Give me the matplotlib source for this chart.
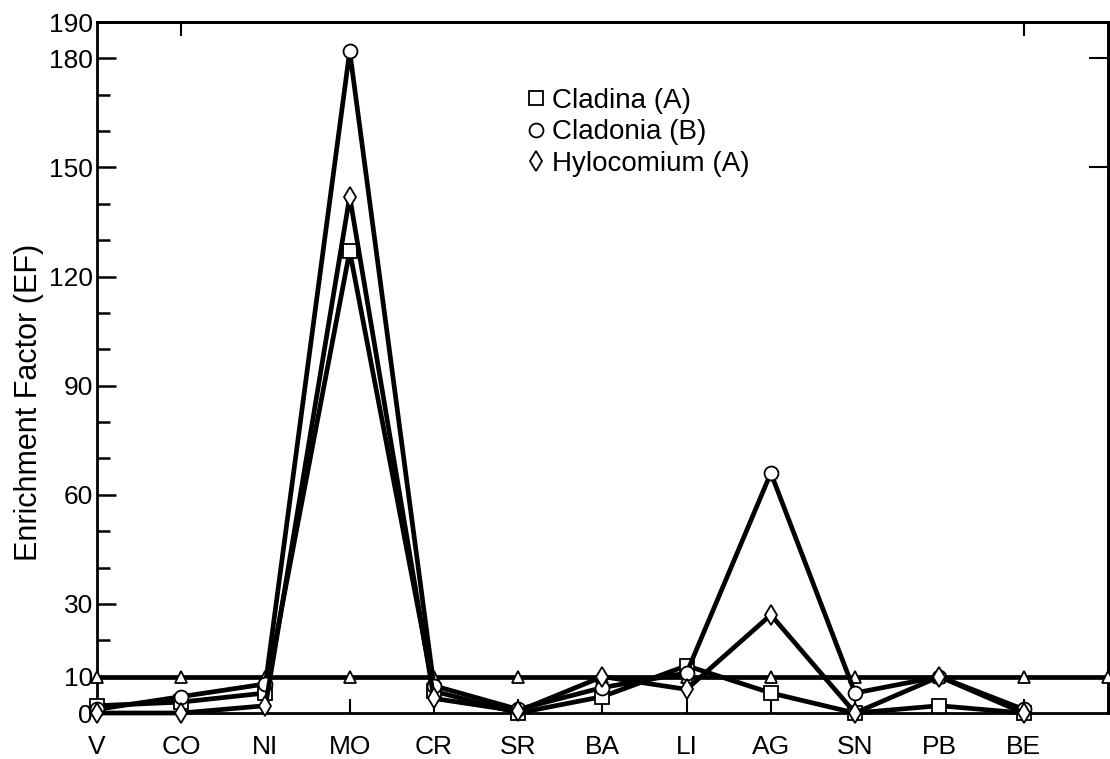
import matplotlib
matplotlib.use("Agg")
import matplotlib.pyplot as plt
from matplotlib.lines import Line2D
from matplotlib.ticker import FixedLocator

elements = ["V", "CO", "NI", "MO", "CR", "SR", "BA", "LI", "AG", "SN", "PB", "BE"]
cladina = [2, 3, 5.5, 127, 6, 0, 4.5, 13, 5.5, 0, 2, 0]
cladonia = [1, 4.5, 8, 182, 7.5, 1, 7, 11, 66, 5.5, 10, 1]
hylocomium = [0, 0, 2, 142, 4, 0.5, 10, 6.5, 27, 0, 10, 0]
reference_level = [10] * 13

yticks_major = [0, 10, 30, 60, 90, 120, 150, 180, 190]
yticks_minor = [20, 40, 50, 70, 80, 100, 110, 130, 140, 160, 170]

plt.rcParams['font.family'] = ['Liberation Sans', 'DejaVu Sans']

fig = plt.figure(figsize=(11.1, 7.59), dpi=100)
ax = fig.add_axes([0.0874, 0.0606, 0.9106, 0.9104])

x = list(range(len(elements)))
xr = list(range(len(reference_level)))

lw = 3.4
ms = 10
ax.plot(xr, reference_level, color='black', lw=lw, marker='^', ms=9,
        mfc='white', mec='black', mew=1.3, zorder=3, clip_on=False)
ax.plot(x, cladina, color='black', lw=lw, marker='s', ms=ms,
        mfc='white', mec='black', mew=1.3, zorder=4, clip_on=False)
ax.plot(x, cladonia, color='black', lw=lw, marker='o', ms=ms,
        mfc='white', mec='black', mew=1.3, zorder=4, clip_on=False)
ax.plot(x, hylocomium, color='black', lw=lw, marker='d', ms=ms,
        mfc='white', mec='black', mew=1.3, zorder=4, clip_on=False)

ax.set_xlim(0, 12)
ax.set_ylim(0, 190)

ax.set_xticks(x)
ax.set_xticklabels(elements, fontsize=19)
ax.set_yticks(yticks_major)
ax.set_yticklabels([str(v) for v in yticks_major], fontsize=19)
ax.yaxis.set_minor_locator(FixedLocator(yticks_minor))

ax.tick_params(axis='x', direction='in', length=10, width=1.5, pad=16)
ax.tick_params(axis='y', which='major', direction='in', length=14, width=1.8, pad=3)
ax.tick_params(axis='y', which='minor', direction='in', length=9, width=1.8)

for s in ax.spines.values():
    s.set_linewidth(2)

ax.set_ylabel("Enrichment Factor (EF)", fontsize=22)
ax.yaxis.set_label_coords(-0.052, 0.45)

# top ticks and right ticks
secx = ax.secondary_xaxis('top')
secx.set_xticks([1, 11])
secx.set_xticklabels([])
secx.tick_params(direction='in', length=10, width=1.5)
secx.spines['top'].set_linewidth(2)
secy = ax.secondary_yaxis('right')
secy.set_yticks([150, 180])
secy.set_yticklabels([])
secy.tick_params(direction='in', length=14, width=1.5)
secy.spines['right'].set_linewidth(2)

handles = [
    Line2D([], [], ls='none', marker='s', ms=10, mfc='white', mec='black', mew=1.3),
    Line2D([], [], ls='none', marker='o', ms=10, mfc='white', mec='black', mew=1.3),
    Line2D([], [], ls='none', marker='d', ms=10, mfc='white', mec='black', mew=1.3),
]
ax.legend(handles, ["Cladina (A)", "Cladonia (B)", "Hylocomium (A)"],
          loc='upper left', bbox_to_anchor=(0.414, 0.925), frameon=False,
          fontsize=20, handlelength=0.5, handletextpad=0.3, labelspacing=0.2,
          borderpad=0)

fig.savefig("out.png", dpi=100)
